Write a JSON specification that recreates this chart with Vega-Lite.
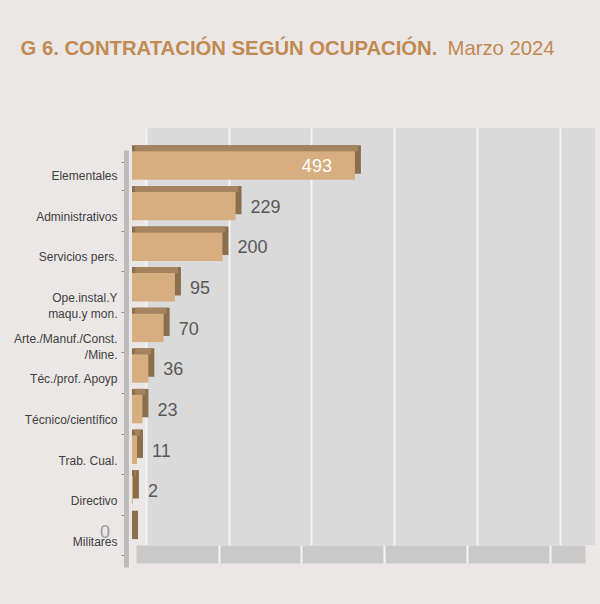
{
  "$schema": "https://vega.github.io/schema/vega-lite/v6.json",
  "width": 449,
  "height": 417,
  "autosize": {"type": "none"},
  "padding": {"left": 146, "top": 128, "right": 5, "bottom": 59},
  "background": "#ece7e7",
  "config": {"view": {"fill": "#dadada", "stroke": null}, "font": "Liberation Sans"},
  "data": {
    "values": [
      {"ocup": "Elementales", "v": 493},
      {"ocup": "Administrativos", "v": 229},
      {"ocup": "Servicios pers.", "v": 200},
      {"ocup": "Ope.instal.Y\nmaqu.y mon.", "v": 95},
      {"ocup": "Arte./Manuf./Const.\n/Mine.", "v": 70},
      {"ocup": "Téc./prof. Apoyp", "v": 36},
      {"ocup": "Técnico/científico", "v": 23},
      {"ocup": "Trab. Cual.", "v": 11},
      {"ocup": "Directivo", "v": 2},
      {"ocup": "Militares", "v": 0}
    ]
  },
  "resolve": {"axis": {"x": "independent"}},
  "encoding": {
    "y": {"field": "ocup", "type": "nominal", "sort": null, "scale": {"paddingInner": 0.3, "paddingOuter": 0.285},
      "axis": {"orient": "left", "offset": 20, "position": 22, "title": null, "domainColor": "#bcbcbc", "domainWidth": 5,
        "ticks": true, "tickBand": "extent", "tickSize": 5, "tickColor": "#8c8c8c", "tickWidth": 1,
        "labelFont": "Liberation Sans", "labelFontSize": 12, "labelColor": "#404040", "labelPadding": 4, "labelLimit": 0,
        "labelLineHeight": 16, "labelExpr": "split(datum.label, '\\n')"}}
  },
  "layer": [
    {
      "mark": {"type": "bar", "color": "#8b6e4c", "xOffset": -8, "x2Offset": -14, "yOffset": 5.7},
      "encoding": {
        "x": {"field": "v", "type": "quantitative", "stack": null, "scale": {"domain": [0, 993], "nice": false},
          "axis": {"orient": "top", "values": [0, 183, 366, 549, 732, 915], "grid": true, "gridColor": "#f4f4f4", "gridWidth": 2,
            "domain": false, "ticks": false, "labels": false,
            "title": "G 6. CONTRATACIÓN SEGÚN OCUPACIÓN.", "titleX": -126, "titleY": -73.7, "titleAlign": "left", "titleBaseline": "alphabetic",
            "titleFont": "Liberation Sans", "titleFontSize": 20.3, "titleFontWeight": "bold", "titleColor": "#c08a50"}},
        "x2": {"datum": 0}
      }
    },
    {
      "mark": {"type": "bar", "color": "#a3845e", "size": 6, "xOffset": -11, "x2Offset": -11, "yOffset": -5.5},
      "encoding": {
        "x": {"field": "v", "type": "quantitative", "stack": null,
          "axis": {"orient": "bottom", "offset": 9, "position": -10, "domain": true, "domainColor": "#c9c9c9", "domainWidth": 18,
            "ticks": false, "labels": false, "grid": false, "title": null}},
        "x2": {"datum": 0}
      }
    },
    {
      "mark": {"type": "bar", "color": "#d7ae80", "xOffset": -14, "x2Offset": -14, "yOffset": 11.7},
      "encoding": {
        "x": {"field": "v", "type": "quantitative", "stack": null,
          "axis": {"orient": "bottom", "offset": 0, "position": -10, "values": [183, 366, 549, 732, 915], "domain": false,
            "ticks": true, "tickColor": "#f4f4f4", "tickWidth": 2, "tickSize": 18, "labels": false, "grid": false,
            "title": "Marzo 2024", "titleX": 311, "titleY": -490.7, "titleAlign": "left", "titleBaseline": "alphabetic",
            "titleFont": "Liberation Sans", "titleFontSize": 20.3, "titleFontWeight": "normal", "titleColor": "#c08a50"}},
        "x2": {"datum": 0}
      }
    },
    {
      "transform": [{"filter": "datum.v > 0 && datum.v < 400"}],
      "mark": {"type": "text", "align": "left", "baseline": "middle", "dx": 1, "dy": 13.5, "fontSize": 18,
        "font": "Liberation Sans", "color": "#595959"},
      "encoding": {
        "x": {"field": "v", "type": "quantitative", "axis": null},
        "text": {"field": "v", "type": "quantitative"}
      }
    },
    {
      "transform": [{"filter": "datum.v >= 400"}],
      "mark": {"type": "text", "align": "right", "baseline": "middle", "dx": -37, "dy": 13.5, "fontSize": 18,
        "font": "Liberation Sans", "color": "#ffffff"},
      "encoding": {
        "x": {"field": "v", "type": "quantitative", "axis": null},
        "text": {"field": "v", "type": "quantitative"}
      }
    },
    {
      "transform": [{"filter": "datum.v == 0"}],
      "mark": {"type": "text", "align": "center", "baseline": "middle", "dx": -41, "dy": 14, "fontSize": 18,
        "font": "Liberation Sans", "color": "#9a9a9a"},
      "encoding": {
        "x": {"field": "v", "type": "quantitative", "axis": null},
        "text": {"field": "v", "type": "quantitative"}
      }
    }
  ]
}
